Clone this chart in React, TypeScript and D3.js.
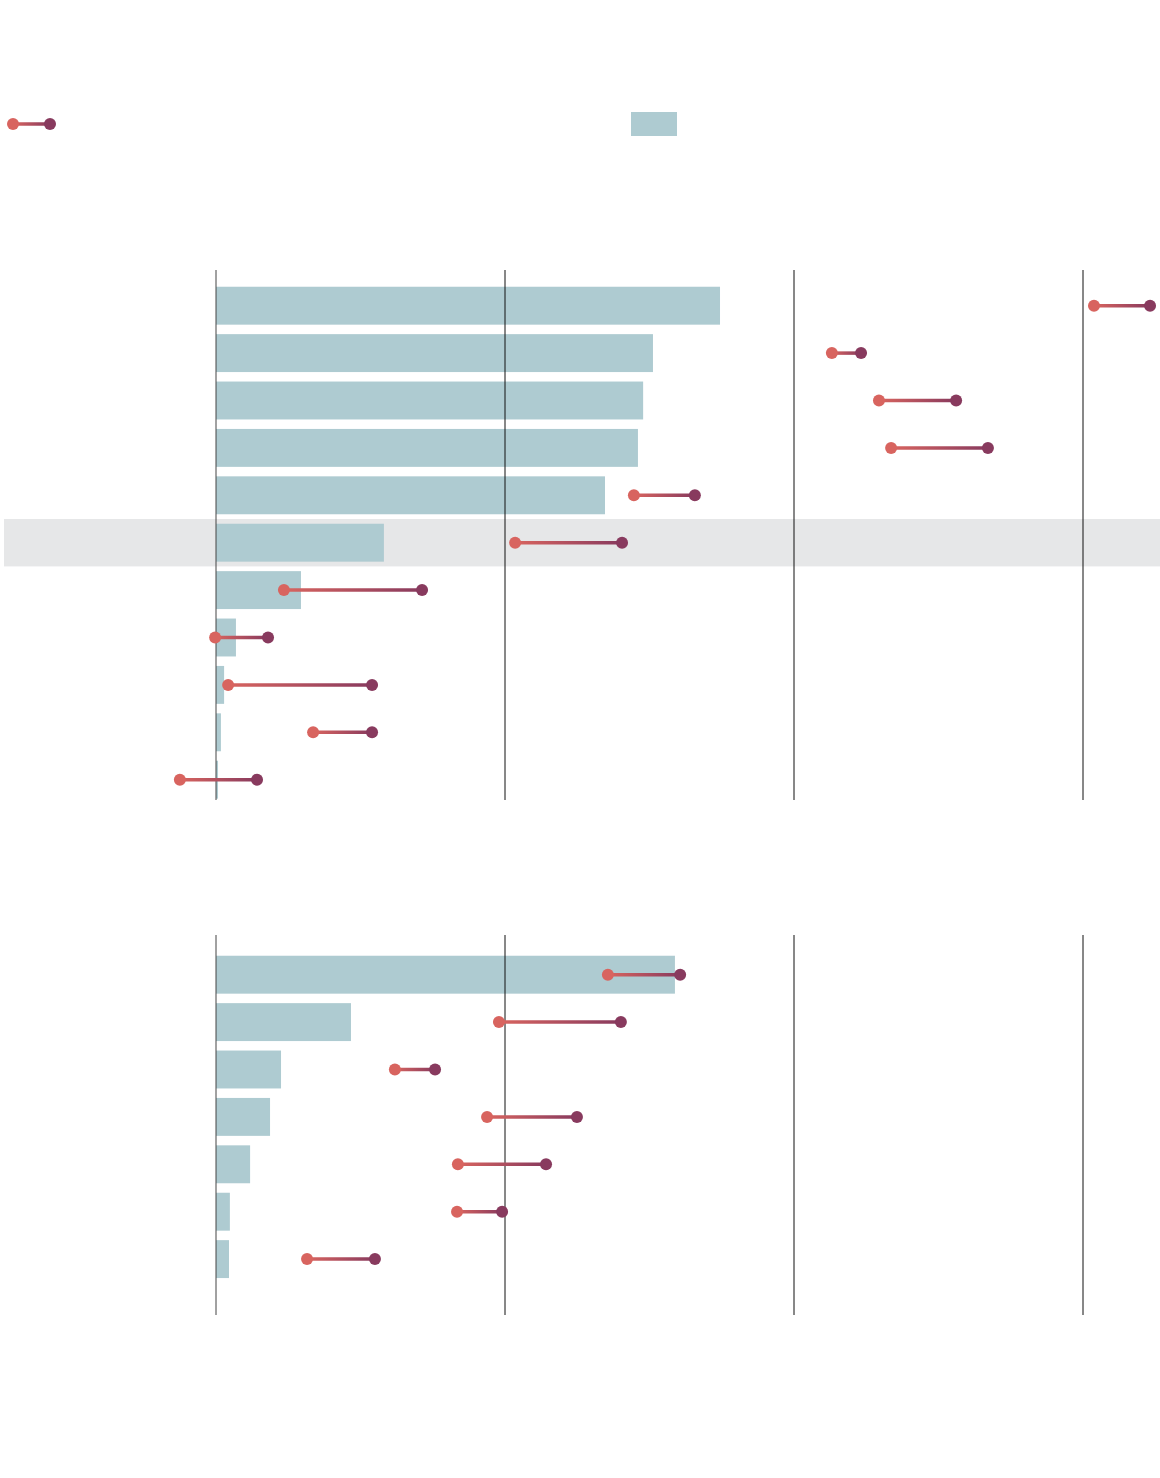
import * as d3 from "d3";

// top panel: bar values and dumbbell start/end values
const topBars = [1.744, 1.512, 1.478, 1.46, 1.346, 0.581, 0.294, 0.069, 0.028, 0.017, 0.007];
const topStart = [3.038, 2.131, 2.294, 2.336, 1.446, 1.035, 0.235, -0.003, 0.042, 0.336, -0.125];
const topEnd = [3.232, 2.232, 2.561, 2.671, 1.657, 1.405, 0.713, 0.18, 0.54, 0.54, 0.142];
const topHighlight = 5;

// bottom panel
const bottomBars = [1.588, 0.467, 0.225, 0.187, 0.118, 0.048, 0.045];
const bottomStart = [1.356, 0.979, 0.619, 0.938, 0.837, 0.834, 0.315];
const bottomEnd = [1.606, 1.401, 0.758, 1.249, 1.142, 0.99, 0.55];

const gridTicks = [0, 1, 2, 3];

const W = 1160;
const H = 1478;
const BAR = "#aecbd1";
const RED = "#d8645f";
const PURPLE = "#883a5e";

const x = d3.scaleLinear().domain([0, 3]).range([216, 1083]);

function Panel({
  id,
  bars,
  starts,
  ends,
  yRange,
  gridY,
  highlight,
}: {
  id: string;
  bars: number[];
  starts: number[];
  ends: number[];
  yRange: [number, number];
  gridY: [number, number];
  highlight?: number;
}) {
  const idx = bars.map((_, i) => i);
  const y = d3
    .scaleBand<number>()
    .domain(idx)
    .range(yRange)
    .paddingInner(0.2)
    .paddingOuter(0.1);
  const step = y.step();

  return (
    <g>
      {highlight !== undefined && (
        <rect
          x={4}
          width={W - 4}
          y={y(highlight)! + y.bandwidth() / 2 - step / 2}
          height={step}
          fill="#e6e7e8"
        />
      )}
      {idx.map((i) => (
        <rect
          key={"b" + i}
          x={x(0)}
          y={y(i)}
          width={Math.max(1.5, x(bars[i]) - x(0))}
          height={y.bandwidth()}
          fill={BAR}
        />
      ))}
      {gridTicks.map((t) => (
        <line
          key={"g" + t}
          x1={x(t)}
          x2={x(t)}
          y1={gridY[0]}
          y2={gridY[1]}
          stroke={t === 0 ? "#444" : "#111"}
          strokeWidth={1}
        />
      ))}
      <defs>
        {idx.map((i) => (
          <linearGradient
            key={"lg" + i}
            id={`${id}-grad-${i}`}
            gradientUnits="userSpaceOnUse"
            x1={x(starts[i])}
            x2={x(ends[i])}
            y1={0}
            y2={0}
          >
            <stop offset="0%" stopColor={RED} />
            <stop offset="100%" stopColor={PURPLE} />
          </linearGradient>
        ))}
      </defs>
      {idx.map((i) => {
        const cy = y(i)! + y.bandwidth() / 2;
        return (
          <g key={"d" + i}>
            <line
              x1={x(starts[i])}
              x2={x(ends[i])}
              y1={cy}
              y2={cy}
              stroke={`url(#${id}-grad-${i})`}
              strokeWidth={3.5}
            />
            <circle cx={x(starts[i])} cy={cy} r={6} fill={RED} />
            <circle cx={x(ends[i])} cy={cy} r={6} fill={PURPLE} />
          </g>
        );
      })}
    </g>
  );
}

export default function App() {
  return (
    <svg
      width={W}
      height={H}
      style={{ position: "absolute", left: 0, top: 0, background: "#fff" }}
    >
      <defs>
        <linearGradient id="legend-grad" gradientUnits="userSpaceOnUse" x1={13} x2={50} y1={0} y2={0}>
          <stop offset="0%" stopColor={RED} />
          <stop offset="100%" stopColor={PURPLE} />
        </linearGradient>
      </defs>
      {/* legend */}
      <line x1={13} x2={50} y1={124} y2={124} stroke="url(#legend-grad)" strokeWidth={3.5} />
      <circle cx={13} cy={124} r={6} fill={RED} />
      <circle cx={50} cy={124} r={6} fill={PURPLE} />
      <rect x={631} y={112} width={46} height={24} fill={BAR} />

      <Panel
        id="top"
        bars={topBars}
        starts={topStart}
        ends={topEnd}
        yRange={[282, 282 + 11 * 47.4]}
        gridY={[270, 800]}
        highlight={topHighlight}
      />
      <Panel
        id="bottom"
        bars={bottomBars}
        starts={bottomStart}
        ends={bottomEnd}
        yRange={[951, 951 + 7 * 47.4]}
        gridY={[935, 1315]}
      />
    </svg>
  );
}
